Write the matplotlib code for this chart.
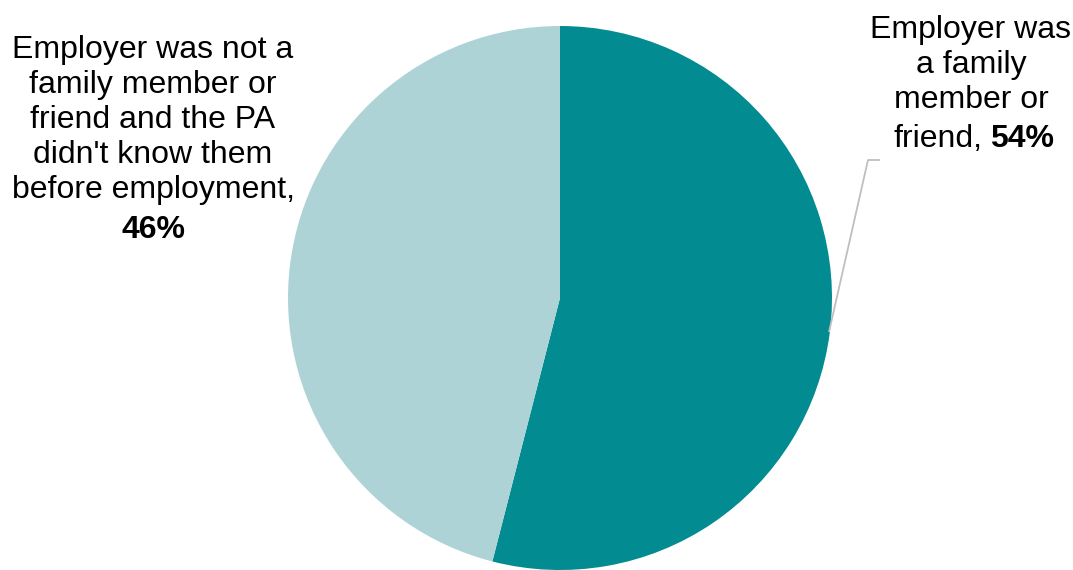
import matplotlib.pyplot as plt

labels = ["Employer was a family member or friend",
          "Employer was not a family member or friend and the PA didn't know them before employment"]
shares = [54, 46]
colors = ["#028B91", "#AED3D6"]

W, H = 1073, 570
fig = plt.figure(figsize=(W / 100, H / 100), dpi=100)
ax = fig.add_axes([0, 0, 1, 1])

# pie laid out in pixel units, top edge at y=28 from the top
ax.pie(shares, colors=colors, startangle=90, counterclock=False,
       center=(560, H - 298), radius=272, frame=True,
       wedgeprops=dict(linewidth=0))
ax.set_xlim(0, W)
ax.set_ylim(0, H)
ax.set_aspect("equal")
ax.axis("off")

font = dict(family=["Liberation Sans", "DejaVu Sans"], fontsize=23,
            color="black")

# left label
ax.text(153, H - 120, "Employer was not a\nfamily member or\nfriend and the PA\n"
        "didn't know them\nbefore employment,",
        ha="center", va="center", linespacing=1.22, **font)
ax.text(153, H - 230, f"{shares[1]}%", ha="center", va="center",
        fontweight="bold", **font)

# right label
ax.text(971, H - 65, "Employer was\na family\nmember or",
        ha="center", va="center", linespacing=1.22, **font)
ax.text(982, H - 139, "friend,", ha="right", va="center", **font)
ax.text(990, H - 139, f"{shares[0]}%", ha="left", va="center",
        fontweight="bold", **font)

# leader line to the dark slice
ax.plot([829, 868, 880], [H - 332, H - 160, H - 160], color="#BFBFBF",
        linewidth=1.3, solid_capstyle="butt")

fig.savefig("out.png", dpi=100)
